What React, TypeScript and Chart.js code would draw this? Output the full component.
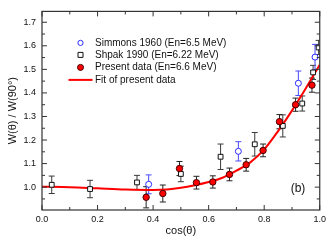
import React, { useEffect, useRef } from 'react';
import { Chart, registerables } from 'chart.js';

Chart.register(...registerables);

// ---- data ----
const presentX = [0.375, 0.435, 0.495, 0.556, 0.615, 0.675, 0.735, 0.796, 0.855, 0.913, 0.972];
const presentY = [0.957, 0.973, 1.079, 1.019, 1.022, 1.054, 1.095, 1.156, 1.278, 1.35, 1.433];
const presentErr = [0.045, 0.036, 0.03, 0.027, 0.026, 0.027, 0.027, 0.027, 0.03, 0.028, 0.03];

const shpakX = [0.035, 0.173, 0.342, 0.5, 0.643, 0.766, 0.867, 0.937, 0.976, 0.996];
const shpakY = [1.01, 0.992, 1.02, 1.056, 1.129, 1.182, 1.26, 1.355, 1.487, 1.593];
const shpakErr = [0.037, 0.037, 0.03, 0.033, 0.054, 0.05, 0.047, 0.032, 0.03, 0.03];

const simmonsX = [0.384, 0.707, 0.923, 0.983];
const simmonsY = [1.012, 1.152, 1.441, 1.552];
const simmonsErr = [0.04, 0.041, 0.052, 0.054];

const fitX = [0, 0.1, 0.2, 0.3, 0.4, 0.45, 0.5, 0.55, 0.6, 0.65, 0.7, 0.75, 0.8, 0.85, 0.9, 0.95, 1.0];
const fitY = [1.002, 1.0, 0.995, 0.99, 0.988, 0.99, 0.997, 1.008, 1.022, 1.04, 1.07, 1.105, 1.16, 1.238, 1.325, 1.42, 1.52];

const xTickValues = [0, 0.2, 0.4, 0.6, 0.8, 1.0];
const yTickValues = [1.0, 1.1, 1.2, 1.3, 1.4, 1.5, 1.6, 1.7];

const legendLabels = [
  'Simmons 1960 (En=6.5 MeV)',
  'Shpak 1990 (En=6.22 MeV)',
  'Present data (En=6.6 MeV)',
  'Fit of present data',
];
const panelLabel = '(b)';

const FONT = "'Liberation Sans', Arial, Helvetica, sans-serif";
const RED = '#ff0000';
const BLUE = '#2a2aff';

const toPts = (xs: number[], ys: number[]) => xs.map((x, i) => ({ x, y: ys[i] }));

const errorBarPlugin = {
  id: 'errorBars',
  beforeDatasetsDraw(chart: any) {
    const { ctx, chartArea: a, scales } = chart;
    const xs = scales.x;
    const ys = scales.y;
    ctx.save();
    ctx.beginPath();
    ctx.rect(a.left, a.top, a.right - a.left, a.bottom - a.top);
    ctx.clip();
    const group = (X: number[], Y: number[], E: number[], color: string) => {
      ctx.strokeStyle = color;
      ctx.lineWidth = 1;
      X.forEach((xv, i) => {
        const px = xs.getPixelForValue(xv);
        const p1 = ys.getPixelForValue(Y[i] + E[i]);
        const p2 = ys.getPixelForValue(Y[i] - E[i]);
        ctx.beginPath();
        ctx.moveTo(px, p1);
        ctx.lineTo(px, p2);
        ctx.moveTo(px - 3, p1);
        ctx.lineTo(px + 3, p1);
        ctx.moveTo(px - 3, p2);
        ctx.lineTo(px + 3, p2);
        ctx.stroke();
      });
    };
    group(shpakX, shpakY, shpakErr, '#3a3a3a');
    group(simmonsX, simmonsY, simmonsErr, '#4a4aff');
    group(presentX, presentY, presentErr, '#222');
    ctx.restore();
  },
};

const framePlugin = {
  id: 'frame',
  afterDraw(chart: any) {
    const { ctx, chartArea: a, scales } = chart;
    const xs = scales.x;
    const ys = scales.y;
    ctx.save();
    ctx.strokeStyle = '#333';
    ctx.lineWidth = 1.2;
    ctx.strokeRect(a.left, a.top, a.right - a.left, a.bottom - a.top);
    ctx.lineWidth = 1;
    ctx.beginPath();
    for (let i = 0; i <= 10; i++) {
      const px = xs.getPixelForValue(i / 10);
      const len = i % 2 === 0 ? 5 : 3;
      ctx.moveTo(px, a.bottom);
      ctx.lineTo(px, a.bottom - len);
      ctx.moveTo(px, a.top);
      ctx.lineTo(px, a.top + len);
    }
    for (let i = 18; i <= 35; i++) {
      const py = ys.getPixelForValue(i * 0.05);
      if (py < a.top - 0.5 || py > a.bottom + 0.5) continue;
      const len = i % 2 === 0 ? 5 : 3;
      ctx.moveTo(a.left, py);
      ctx.lineTo(a.left + len, py);
      ctx.moveTo(a.right, py);
      ctx.lineTo(a.right - len, py);
    }
    ctx.stroke();

    // legend
    const sx = a.left + 38.5;
    const tx = a.left + 53;
    const rowY = [a.top + 31.5, a.top + 43.5, a.top + 56, a.top + 68.5];
    ctx.font = `10px ${FONT}`;
    ctx.fillStyle = '#111';
    ctx.textBaseline = 'middle';
    ctx.textAlign = 'left';
    legendLabels.forEach((t, i) => ctx.fillText(t, tx, rowY[i]));
    // symbols
    ctx.lineWidth = 1;
    ctx.strokeStyle = BLUE;
    ctx.fillStyle = '#fff';
    ctx.beginPath();
    ctx.arc(sx, rowY[0], 2.6, 0, Math.PI * 2);
    ctx.fill();
    ctx.stroke();
    ctx.strokeStyle = '#111';
    ctx.beginPath();
    ctx.rect(sx - 2.5, rowY[1] - 2.5, 5, 5);
    ctx.fill();
    ctx.stroke();
    ctx.fillStyle = RED;
    ctx.strokeStyle = '#400';
    ctx.beginPath();
    ctx.arc(sx, rowY[2], 3, 0, Math.PI * 2);
    ctx.fill();
    ctx.stroke();
    ctx.strokeStyle = RED;
    ctx.lineWidth = 2;
    ctx.beginPath();
    ctx.moveTo(sx - 12, rowY[3]);
    ctx.lineTo(sx + 12, rowY[3]);
    ctx.stroke();

    // panel label
    ctx.font = `12px ${FONT}`;
    ctx.fillStyle = '#111';
    ctx.textAlign = 'center';
    ctx.fillText(panelLabel, a.left + 256, a.top + 177);
    ctx.restore();
  },
};

export default function App() {
  const ref = useRef<HTMLCanvasElement | null>(null);

  useEffect(() => {
    if (!ref.current) return;
    Chart.defaults.font.family = FONT;
    const chart = new Chart(ref.current, {
      type: 'scatter',
      data: {
        datasets: [
          {
            label: legendLabels[3],
            data: toPts(fitX, fitY),
            showLine: true,
            borderColor: RED,
            borderWidth: 2,
            pointRadius: 0,
            cubicInterpolationMode: 'monotone',
            fill: false,
            order: 3,
          } as any,
          {
            label: legendLabels[1],
            data: toPts(shpakX, shpakY),
            pointStyle: 'rect',
            pointRadius: 3.4,
            backgroundColor: '#fff',
            borderColor: '#111',
            borderWidth: 1,
            order: 2,
          },
          {
            label: legendLabels[0],
            data: toPts(simmonsX, simmonsY),
            pointStyle: 'circle',
            pointRadius: 3,
            backgroundColor: '#fff',
            borderColor: BLUE,
            borderWidth: 1,
            order: 1,
          },
          {
            label: legendLabels[2],
            data: toPts(presentX, presentY),
            pointStyle: 'circle',
            pointRadius: 3.2,
            backgroundColor: RED,
            borderColor: '#400',
            borderWidth: 1,
            order: 0,
          },
        ],
      },
      options: {
        animation: false,
        responsive: false,
        devicePixelRatio: 1,
        layout: { padding: { top: 2, right: 9, left: 0, bottom: 0 } },
        plugins: { legend: { display: false }, tooltip: { enabled: false } },
        scales: {
          x: {
            type: 'linear',
            min: 0,
            max: 1,
            grid: { display: false, drawTicks: false },
            border: { display: false },
            afterFit: (s: any) => { s.height = 32; },
            afterBuildTicks: (s: any) => { s.ticks = xTickValues.map((v) => ({ value: v })); },
            ticks: {
              padding: 4,
              color: '#111',
              font: { size: 9, family: FONT },
              maxRotation: 0,
              callback: (v: any) => Number(v).toFixed(1),
            },
            title: {
              display: true,
              text: 'cos(θ)',
              color: '#111',
              font: { size: 11, family: FONT },
              padding: { top: 0, bottom: 4 },
            },
          },
          y: {
            type: 'linear',
            min: 0.903,
            max: 1.746,
            grid: { display: false, drawTicks: false },
            border: { display: false },
            afterFit: (s: any) => { s.width = 42; },
            afterBuildTicks: (s: any) => { s.ticks = yTickValues.map((v) => ({ value: v })); },
            ticks: {
              padding: 6,
              color: '#111',
              font: { size: 9, family: FONT },
              callback: (v: any) => Number(v).toFixed(1),
            },
            title: {
              display: true,
              text: 'W(θ) / W(90°)',
              color: '#111',
              font: { size: 11, family: FONT },
              padding: { top: 6, bottom: 0 },
            },
          },
        },
      },
      plugins: [errorBarPlugin, framePlugin],
    } as any);
    return () => chart.destroy();
  }, []);

  return (
    <div style={{ position: 'fixed', left: 0, top: 0, width: 330, height: 242 }}>
      <canvas ref={ref} width={330} height={242} style={{ width: 330, height: 242, display: 'block' }} />
    </div>
  );
}
